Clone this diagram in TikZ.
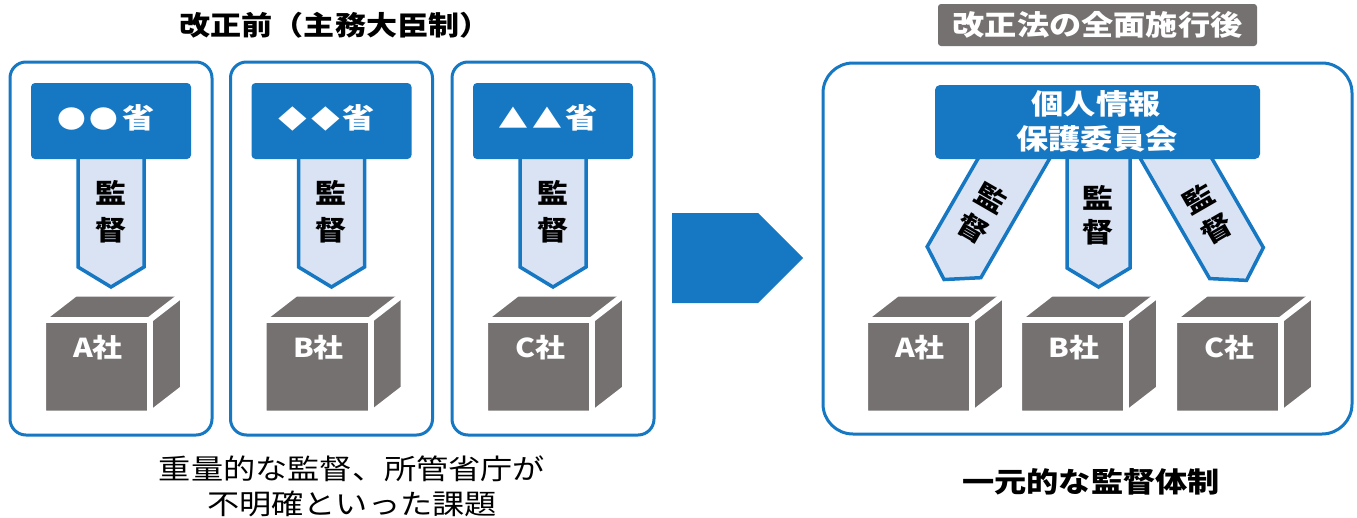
\documentclass[tikz,border=0pt]{standalone}
\usepackage{fontspec}
\setmainfont{Noto Sans CJK JP}[FakeStretch=1.15]
\definecolor{myblue}{RGB}{22,119,194}
\definecolor{mylight}{RGB}{218,227,243}
\definecolor{mygray}{RGB}{118,113,113}
\newcommand{\fs}[1]{\fontsize{#1}{#1}\selectfont}
\tikzset{
  panel/.style={draw=myblue, line width=3pt, rounded corners=16pt},
  hdr/.style={fill=myblue, rounded corners=4pt},
  sv/.style={draw=myblue, fill=mylight, line width=3.5pt, line join=miter},
  svtxt/.style={font=\bfseries\fs{27}, text=black, inner sep=0pt},
  hdrtxt/.style={font=\bfseries\fs{28}, text=white, inner sep=0pt},
  cotxt/.style={font=\bfseries\fs{26}, text=white, inner sep=0pt},
  plain/.style={font=\fs{28}, text=black, inner sep=0pt},
  pics/cube/.style={code={
    \fill[mygray] (0,0) -- (0,-92) -- (31,-116) -- (136,-116) -- (136,-24) -- (105,0) -- cycle;
    \draw[white, line width=6pt, line join=miter] (0,-92) -- (105,-92) -- (105,0);
    \draw[white, line width=6pt] (105,-92) -- (136,-116);
    \draw[white, line width=2pt, line join=miter] (0,0) -- (0,-92) -- (31,-116) -- (136,-116) -- (136,-24) -- (105,0) -- cycle;
  }}
}
\begin{document}
\begin{tikzpicture}[x=1pt, y=-1pt]
\useasboundingbox (0,0) rectangle (1357,517);

% titles
\node[font=\bfseries\fs{27}, inner sep=0pt] (t1) at (335,25) {改正前（主務大臣制）};
\node[fill=mygray, rounded corners=3pt, minimum width=319pt, minimum height=42pt, inner sep=0pt,
      text=white, font=\bfseries\fs{28}] (t2) at (1097.5,25) {改正法の全面施行後};

% left panels
\foreach \cx/\sym/\co/\i in {111/{{\fs{25}●\hspace{4pt}●}\hspace{4pt}省}/A社/1,
                             331.5/{{\fs{25}◆\hspace{5pt}◆}\hspace{2pt}省}/B社/2,
                             553/{{\fs{26}▲\hspace{5pt}▲}\hspace{3pt}省}/C社/3}{
  \draw[panel] (\cx-101,62) rectangle (\cx+101,435);
  \draw[sv] (\cx-33,150) -- (\cx+33,150) -- (\cx+33,267) -- (\cx,287) -- (\cx-33,267) -- cycle;
  \fill[hdr] (\cx-80,83) rectangle (\cx+80,159);
  \node[hdrtxt] (h\i) at (\cx-5,118) {\sym};
  \node[svtxt] (ka\i) at (\cx,193) {監};
  \node[svtxt] (kb\i) at (\cx,230) {督};
  \pic at (\cx-66,411.5) {cube};
  \node[cotxt] (c\i) at (\cx-13,348) {\co};
}

% big arrow
\fill[myblue] (672,213) -- (758,213) -- (803,258) -- (758,303) -- (672,303) -- cycle;

% right panel
\draw[panel, rounded corners=30pt] (823,63) rectangle (1352,434);

% diagonal / vertical arrows
\begin{scope}[shift={(1013,160)}, rotate=-30, transform shape]
  \draw[sv] (-31,-30) -- (31,-30) -- (31,118) -- (0,138) -- (-31,118) -- cycle;
  \node[svtxt] (la) at (0,44) {監};
  \node[svtxt] (lb) at (0,79) {督};
\end{scope}
\begin{scope}[shift={(1177,160)}, rotate=30, transform shape]
  \draw[sv] (-31,-30) -- (31,-30) -- (31,119) -- (0,139) -- (-31,119) -- cycle;
  \node[svtxt] (ra) at (0,44) {監};
  \node[svtxt] (rb) at (0,79) {督};
\end{scope}
\draw[sv] (1067,150) -- (1130,150) -- (1130,268) -- (1098.5,287) -- (1067,268) -- cycle;
\node[svtxt] (ma) at (1098.5,198) {監};
\node[svtxt] (mb) at (1098.5,232) {督};

% committee box
\fill[hdr, rounded corners=5pt] (935,85) rectangle (1260,159);
\node[hdrtxt] (pc1) at (1096,104) {個人情報};
\node[hdrtxt] (pc2) at (1097,139) {保護委員会};

% right cubes
\foreach \x/\co/\i in {867/A社/4, 1021/B社/5, 1176/C社/6}{
  \pic at (\x,411.5) {cube};
  \node[cotxt] (c\i) at (\x+53,348) {\co};
}

% bottom texts
\node[plain] (b1) at (352,469) {重量的な監督、所管省庁が};
\node[plain] (b2) at (352,504) {不明確といった課題};
\node[plain, font=\bfseries\fs{28}] (b3) at (1091,482) {一元的な監督体制};
\end{tikzpicture}
\end{document}
